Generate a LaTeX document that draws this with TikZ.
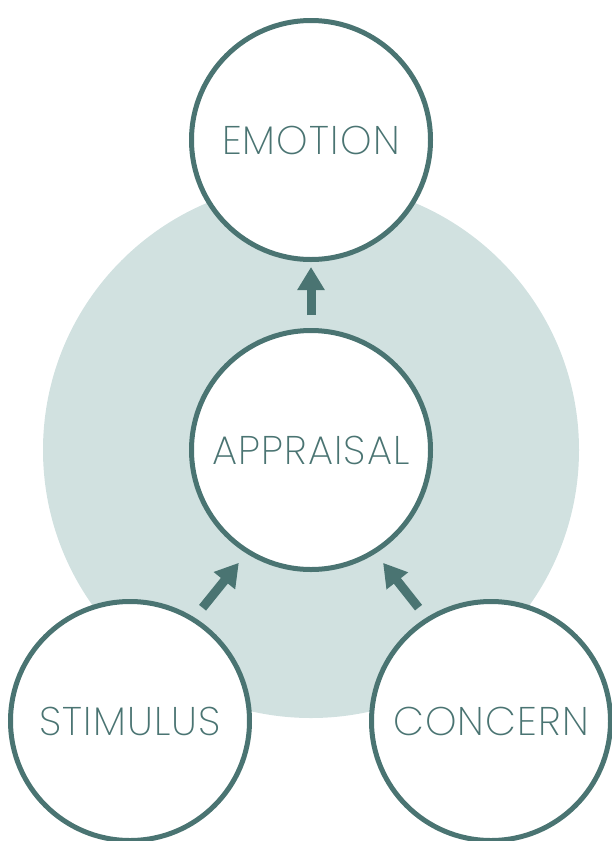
\documentclass[tikz,border=0pt]{standalone}
\usepackage{fontspec}
\usepackage{tikz}
\usetikzlibrary{positioning}
\usetikzlibrary{calc}
\usetikzlibrary{arrows.meta}
\definecolor{tealdark}{HTML}{4A7472}
\definecolor{teallight}{HTML}{D1E1E0}
\newfontfamily\labfont[LetterSpace=3]{Poppins ExtraLight}

\begin{document}
\begin{tikzpicture}[x=1pt,y=-1pt,
  bubble/.style={circle, draw=tealdark, line width=5pt, fill=white,
    minimum size=239pt, inner sep=0pt, text=tealdark,
    font=\labfont\fontsize{40}{40}\selectfont},
  arr/.style={tealdark, line width=9pt, -{Triangle[length=23pt,width=26pt]}}]
\useasboundingbox (0,0) rectangle (611,841);
\fill[teallight] (311,450) circle[radius=268];

\node[bubble] (emotion) at (311,140) {EMOTION};
\node[bubble] (appraisal) at (311,450) {APPRAISAL};
\node[bubble] (stimulus) at (130,721) {STIMULUS};
\node[bubble] (concern) at (491,721) {CONCERN};

\draw[arr, shorten <=13pt, shorten >=5pt] (appraisal.north) -- (emotion.south);
\draw[arr, shorten <=12.6pt, shorten >=12pt] (stimulus.58) -- (appraisal.238);
\draw[arr, shorten <=12.6pt, shorten >=12pt] (concern.122) -- (appraisal.302);
\end{tikzpicture}
\end{document}
